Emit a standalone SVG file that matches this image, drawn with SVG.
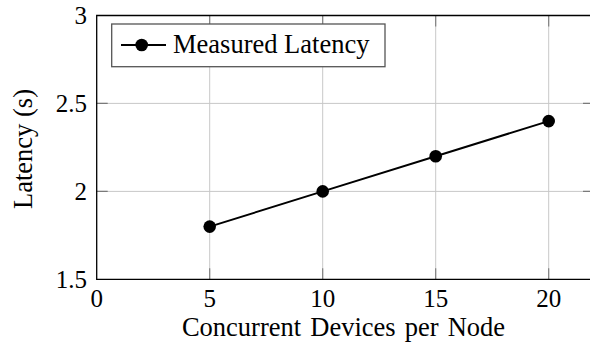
<svg xmlns="http://www.w3.org/2000/svg" width="590" height="347" viewBox="0 0 590 347">
  <style>
    .grid { stroke: #c8c8c8; stroke-width: 1; fill: none; }
    .tick { stroke: #7a7a7a; stroke-width: 1.1; fill: none; }
    .axis { stroke: #000; stroke-width: 1.3; fill: none; }
    .num { font-family: "Liberation Serif", "Times New Roman", serif; font-size: 25px; fill: #000; }
    .lbl { font-family: "Liberation Serif", "Times New Roman", serif; font-size: 26.5px; fill: #000; }
    .series { stroke: #000; stroke-width: 2; fill: none; }
    .mark { fill: #000; }
  </style>
  <rect x="0" y="0" width="590" height="347" fill="#fff"/>

  <!-- grid -->
  <g id="grid">
    <path class="grid" d="M209.7 15.5V279.3M322.7 15.5V279.3M435.7 15.5V279.3M548.7 15.5V279.3"/>
    <path class="grid" d="M96.7 191.4H594M96.7 103.4H594"/>
  </g>

  <!-- ticks (inward, both sides) -->
  <g id="ticks">
    <path class="tick" d="M209.7 279.3v-11M322.7 279.3v-11M435.7 279.3v-11M548.7 279.3v-11"/>
    <path class="tick" d="M209.7 15.5v11M322.7 15.5v11M435.7 15.5v11M548.7 15.5v11"/>
    <path class="tick" d="M96.7 191.4h11M96.7 103.4h11"/>
    <path class="tick" d="M594 191.4h-11M594 103.4h-11"/>
  </g>

  <!-- axis frame -->
  <g id="axes">
    <path class="axis" d="M594 15.5H96.7V279.3H594V15.5"/>
  </g>

  <!-- tick labels -->
  <g id="y-ticklabels" class="num" text-anchor="end">
    <text x="87" y="24">3</text>
    <text x="87" y="112">2.5</text>
    <text x="87" y="200">2</text>
    <text x="87" y="288">1.5</text>
  </g>
  <g id="x-ticklabels" class="num" text-anchor="middle">
    <text x="96.7" y="306.5">0</text>
    <text x="209.7" y="306.5">5</text>
    <text x="322.7" y="306.5">10</text>
    <text x="435.7" y="306.5">15</text>
    <text x="548.7" y="306.5">20</text>
  </g>

  <!-- axis labels -->
  <g id="x-label">
    <text class="lbl" x="343.5" y="336" text-anchor="middle" word-spacing="2.5">Concurrent Devices per Node</text>
  </g>
  <g id="y-label">
    <text class="lbl" transform="translate(32 149) rotate(-90)" text-anchor="middle">Latency (s)</text>
  </g>

  <!-- data series -->
  <g id="series-latency">
    <polyline class="series" points="209.7,226.6 322.7,191.4 435.7,156.2 548.7,121.1"/>
    <circle class="mark" cx="209.7" cy="226.6" r="6.3"/>
    <circle class="mark" cx="322.7" cy="191.4" r="6.3"/>
    <circle class="mark" cx="435.7" cy="156.2" r="6.3"/>
    <circle class="mark" cx="548.7" cy="121.1" r="6.3"/>
  </g>

  <!-- legend -->
  <g id="legend">
    <rect x="111.7" y="24" width="273.3" height="42.7" fill="#fff" stroke="#555" stroke-width="1.3"/>
    <line class="series" x1="121" y1="45" x2="166" y2="45"/>
    <circle class="mark" cx="141.7" cy="45" r="6.3"/>
    <text class="lbl" x="173" y="53.3">Measured Latency</text>
  </g>
</svg>
